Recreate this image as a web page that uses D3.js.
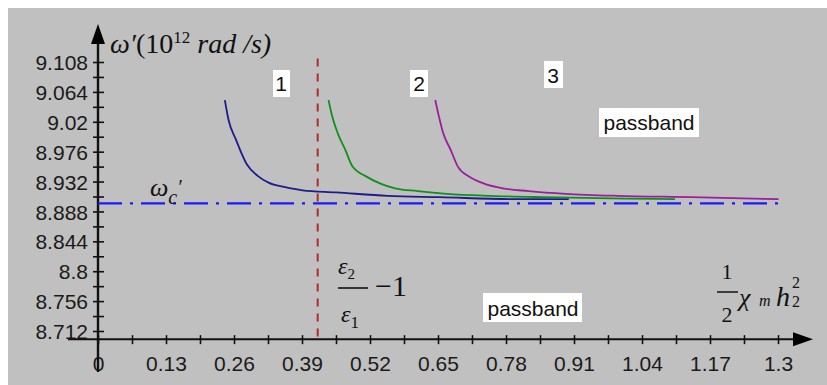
<!DOCTYPE html>
<html>
<head>
<meta charset="utf-8">
<script src="https://cdn.jsdelivr.net/npm/d3@7/dist/d3.min.js"></script>
<style>
  html, body { margin: 0; padding: 0; background: #ffffff; }
  svg { display: block; }
</style>
</head>
<body>
<svg id="chart" width="827" height="385"></svg>
<script>
// Tick values
const xTicks = [0, 0.13, 0.26, 0.39, 0.52, 0.65, 0.78, 0.91, 1.04, 1.17, 1.3];
const yTicks = [8.712, 8.756, 8.8, 8.844, 8.888, 8.932, 8.976, 9.02, 9.064, 9.108];
const xTickLabels = ["0", "0.13", "0.26", "0.39", "0.52", "0.65", "0.78", "0.91", "1.04", "1.17", "1.3"];
const yTickLabels = ["8.712", "8.756", "8.8", "8.844", "8.888", "8.932", "8.976", "9.02", "9.064", "9.108"];

// Dispersion curves 1, 2, 3
const curve1X = [0.2425, 0.2495, 0.2636, 0.2848, 0.3059, 0.327, 0.356, 0.391, 0.455, 0.554, 0.653, 0.801, 0.9];
const curve1Y = [9.052, 9.023, 8.994, 8.957, 8.940, 8.930, 8.924, 8.919, 8.916, 8.911, 8.909, 8.906, 8.906];
const curve2X = [0.4407, 0.4477, 0.4584, 0.4726, 0.4867, 0.5116, 0.540, 0.568, 0.611, 0.667, 0.752, 0.851, 1.007, 1.103];
const curve2Y = [9.052, 9.028, 9.003, 8.979, 8.954, 8.940, 8.929, 8.922, 8.918, 8.914, 8.911, 8.909, 8.907, 8.906];
const curve3X = [0.6447, 0.6517, 0.660, 0.674, 0.688, 0.710, 0.738, 0.774, 0.823, 0.894, 0.993, 1.135, 1.301];
const curve3Y = [9.052, 9.028, 9.003, 8.979, 8.954, 8.939, 8.929, 8.922, 8.918, 8.914, 8.911, 8.909, 8.906];

// Cut-off frequency and the threshold ε2/ε1 − 1
const omegaC = 8.9;
const omegaCRange = [0, 1.3];
const threshold = 0.42;
const thresholdRange = [8.7, 9.113];

const svg = d3.select("#chart");

// panel background
svg.append("rect").attr("x", 8).attr("y", 8).attr("width", 819).attr("height", 377).attr("fill", "#c0c0c0");

const x = d3.scaleLinear().domain([0, 1.3]).range([98, 778]);
const y = d3.scaleLinear().domain([8.712, 9.108]).range([331, 62]);
const axisY = y(8.7);

const tickFont = "'Liberation Sans', Arial, sans-serif";
const serif = "'Liberation Serif', 'Times New Roman', serif";

// x axis with major + minor ticks
const xAxis = svg.append("g").attr("transform", `translate(0,${axisY})`);
xAxis.call(d3.axisBottom(x).tickValues(d3.range(0, 1.3001, 0.065)).tickSize(0).tickFormat(""));
xAxis.select(".domain").remove();
xAxis.selectAll(".tick").append("line").attr("y1", -4).attr("y2", 5).attr("stroke", "#111").attr("stroke-width", 1.6);
svg.append("line").attr("x1", 68).attr("x2", 800).attr("y1", axisY).attr("y2", axisY).attr("stroke", "#111").attr("stroke-width", 2);
svg.append("path").attr("d", `M${793},${axisY - 7} L${813},${axisY} L${793},${axisY + 7} Z`).attr("fill", "#000");

const xLab = svg.append("g").attr("transform", `translate(0,${axisY})`)
  .call(d3.axisBottom(x).tickValues(xTicks).tickSize(0).tickPadding(0).tickFormat((d, i) => xTickLabels[i]));
xLab.select(".domain").remove();
xLab.selectAll("text").attr("dy", 0).attr("y", 32).attr("font-family", tickFont).attr("font-size", 21).attr("fill", "#1a1a1a");

// y axis with major + minor ticks
const yAxis = svg.append("g").attr("transform", `translate(${x(0)},0)`);
yAxis.call(d3.axisLeft(y).tickValues(d3.range(0, 19).map(i => 8.712 + i * 0.022)).tickSize(0).tickFormat(""));
yAxis.select(".domain").remove();
yAxis.selectAll(".tick").append("line").attr("x1", -5).attr("x2", 6).attr("stroke", "#111").attr("stroke-width", 1.6);
svg.append("line").attr("x1", x(0)).attr("x2", x(0)).attr("y1", 40).attr("y2", 372).attr("stroke", "#111").attr("stroke-width", 2.4);
svg.append("path").attr("d", `M${x(0) - 7},${44} L${x(0)},${24} L${x(0) + 7},${44} Z`).attr("fill", "#000");

const yLab = svg.append("g").attr("transform", `translate(88,0)`)
  .call(d3.axisLeft(y).tickValues(yTicks).tickSize(0).tickPadding(0).tickFormat((d, i) => yTickLabels[i]));
yLab.select(".domain").remove();
yLab.selectAll("text").attr("dy", "0.36em").attr("font-family", tickFont).attr("font-size", 21).attr("fill", "#1a1a1a");

// cut-off line ωc
svg.append("line")
  .attr("x1", x(omegaCRange[0])).attr("x2", x(omegaCRange[1]))
  .attr("y1", y(omegaC)).attr("y2", y(omegaC))
  .attr("stroke", "#1a1aff").attr("stroke-width", 2.2).attr("stroke-dasharray", "24,8,3,8");

// threshold line
svg.append("line")
  .attr("x1", x(threshold)).attr("x2", x(threshold))
  .attr("y1", y(thresholdRange[1])).attr("y2", y(thresholdRange[0]))
  .attr("stroke", "#b22a2a").attr("stroke-width", 2).attr("stroke-dasharray", "8,7");

// curves
const line = d3.line().x(d => x(d[0])).y(d => y(d[1])).curve(d3.curveMonotoneX);
const curves = [
  { xs: curve1X, ys: curve1Y, color: "#1c1c8c" },
  { xs: curve2X, ys: curve2Y, color: "#10901a" },
  { xs: curve3X, ys: curve3Y, color: "#9a1f9a" }
];
curves.forEach(c => {
  svg.append("path")
    .datum(c.xs.map((v, i) => [v, c.ys[i]]))
    .attr("d", line).attr("fill", "none").attr("stroke", c.color).attr("stroke-width", 1.8);
});

// boxed labels
function boxed(text, cx, baseline, box) {
  svg.append("rect").attr("x", box[0]).attr("y", box[1]).attr("width", box[2]).attr("height", box[3]).attr("fill", "#ffffff");
  svg.append("text").attr("x", cx).attr("y", baseline).attr("text-anchor", "middle")
    .attr("font-family", tickFont).attr("font-size", 21).attr("fill", "#111").text(text);
}
boxed("1", 281, 91, [273, 70, 17, 27]);
boxed("2", 419, 91, [410, 70, 18, 27]);
boxed("3", 553, 83, [544, 61, 19, 27]);
boxed("passband", 649, 130, [599, 108, 100, 29]);
boxed("passband", 533, 316, [483, 293, 99, 29]);

// y-axis title ω′(10¹² rad /s)
const title = svg.append("text").attr("x", 110).attr("y", 53).attr("font-family", serif).attr("font-size", 28).attr("fill", "#111");
title.append("tspan").attr("font-style", "italic").text("ω′");
title.append("tspan").text("(10");
title.append("tspan").attr("font-size", 17).attr("dy", -10).text("12");
title.append("tspan").attr("font-style", "italic").attr("dy", 10).text(" rad /s)");

// ωc label
const wc = svg.append("text").attr("x", 150).attr("y", 196).attr("font-family", serif).attr("font-size", 26).attr("font-style", "italic").attr("fill", "#111");
wc.append("tspan").text("ω");
wc.append("tspan").attr("font-size", 20).attr("dy", 8).text("c");
wc.append("tspan").attr("font-size", 20).attr("dy", -10).text("′");

// ε2/ε1 − 1
svg.append("text").attr("x", 338).attr("y", 274).attr("font-family", serif).attr("font-size", 24).attr("font-style", "italic").attr("fill", "#111")
  .call(t => { t.append("tspan").text("ε"); t.append("tspan").attr("font-size", 15).attr("dy", 5).attr("font-style", "normal").text("2"); });
svg.append("line").attr("x1", 338).attr("x2", 368).attr("y1", 288).attr("y2", 288).attr("stroke", "#111").attr("stroke-width", 1.6);
svg.append("text").attr("x", 341).attr("y", 322).attr("font-family", serif).attr("font-size", 24).attr("font-style", "italic").attr("fill", "#111")
  .call(t => { t.append("tspan").text("ε"); t.append("tspan").attr("font-size", 17).attr("dy", 6).attr("font-style", "normal").text("1"); });
svg.append("text").attr("x", 375).attr("y", 296).attr("font-family", serif).attr("font-size", 30).attr("fill", "#111").text("−1");

// ½ χm h2² label
svg.append("text").attr("x", 727).attr("y", 279).attr("text-anchor", "middle").attr("font-family", serif).attr("font-size", 22).attr("fill", "#111").text("1");
svg.append("line").attr("x1", 717).attr("x2", 738).attr("y1", 292).attr("y2", 292).attr("stroke", "#111").attr("stroke-width", 1.5);
svg.append("text").attr("x", 727).attr("y", 322).attr("text-anchor", "middle").attr("font-family", serif).attr("font-size", 22).attr("fill", "#111").text("2");
svg.append("text").attr("x", 739).attr("y", 306).attr("font-family", serif).attr("font-size", 26).attr("font-style", "italic").attr("fill", "#111").text("χ");
svg.append("text").attr("x", 759).attr("y", 306).attr("font-family", serif).attr("font-size", 16).attr("font-style", "italic").attr("fill", "#111").text("m");
svg.append("text").attr("x", 776).attr("y", 306).attr("font-family", serif).attr("font-size", 28).attr("font-style", "italic").attr("fill", "#111").text("h");
svg.append("text").attr("x", 792).attr("y", 288).attr("font-family", serif).attr("font-size", 16).attr("fill", "#111").text("2");
svg.append("text").attr("x", 792).attr("y", 307).attr("font-family", serif).attr("font-size", 16).attr("fill", "#111").text("2");
</script>
</body>
</html>
